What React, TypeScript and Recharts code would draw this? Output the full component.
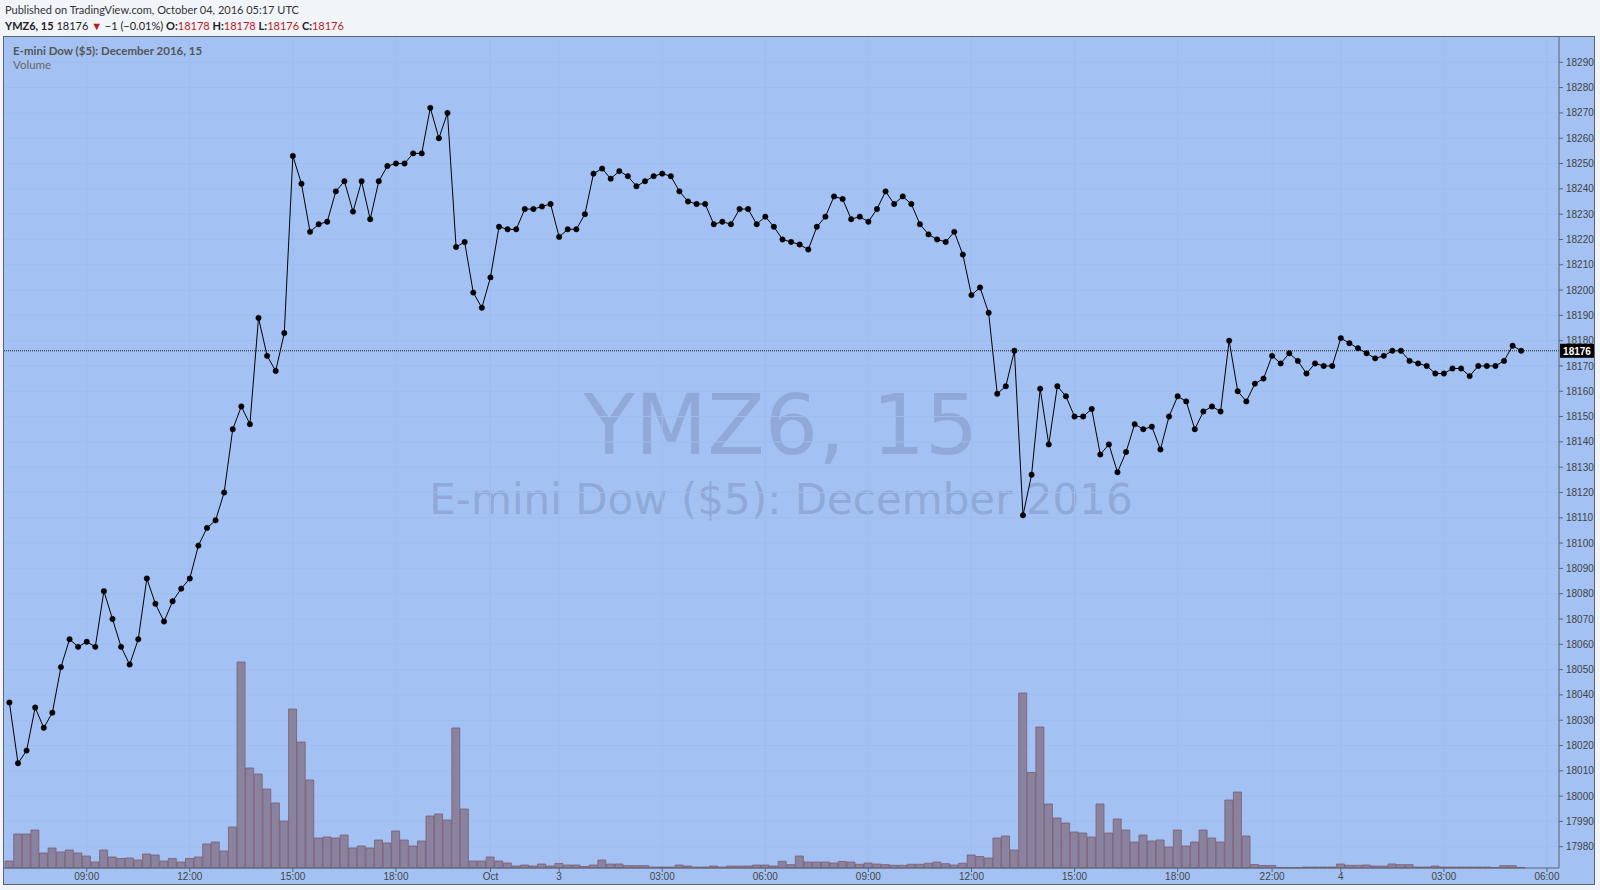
import { ComposedChart, Bar, Line, XAxis, YAxis, CartesianGrid, ReferenceLine } from 'recharts'

// 15-minute closes, Sep 30 06:45 UTC -> Oct 4 05:15 UTC (weekend gap removed)
const closes = [
  18037, 18013, 18018, 18035, 18027, 18033, 18051, 18062, 18059, 18061,
  18059, 18081, 18070, 18059, 18052, 18062, 18086, 18076, 18069, 18077,
  18082, 18086, 18099, 18106, 18109, 18120, 18145, 18154, 18147, 18189,
  18174, 18168, 18183, 18253, 18242, 18223, 18226, 18227, 18239, 18243,
  18231, 18243, 18228, 18243, 18249, 18250, 18250, 18254, 18254, 18272,
  18260, 18270, 18217, 18219, 18199, 18193, 18205, 18225, 18224, 18224,
  18232, 18232, 18233, 18234, 18221, 18224, 18224, 18230, 18246, 18248,
  18244, 18247, 18245, 18241, 18243, 18245, 18246, 18245, 18239, 18235,
  18234, 18234, 18226, 18227, 18226, 18232, 18232, 18226, 18229, 18225,
  18220, 18219, 18218, 18216, 18225, 18229, 18237, 18236, 18228, 18229,
  18227, 18232, 18239, 18234, 18237, 18234, 18226, 18222, 18220, 18219,
  18223, 18214, 18198, 18201, 18191, 18159, 18162, 18176, 18111, 18127,
  18161, 18139, 18162, 18158, 18150, 18150, 18153, 18135, 18139, 18128,
  18136, 18147, 18145, 18146, 18137, 18150, 18158, 18156, 18145, 18152,
  18154, 18152, 18180, 18160, 18156, 18163, 18165, 18174, 18171, 18175,
  18172, 18167, 18171, 18170, 18170, 18181, 18179, 18177, 18175, 18173,
  18174, 18176, 18176, 18172, 18171, 18170, 18167, 18167, 18169, 18169,
  18166, 18170, 18170, 18170, 18172, 18178, 18176,
]

const volumes = [
  175, 850, 850, 950, 375, 500, 400, 450, 375, 300,
  150, 450, 275, 238, 250, 200, 350, 325, 175, 238,
  150, 238, 275, 600, 650, 425, 1025, 5150, 2500, 2350,
  1975, 1625, 1175, 3975, 3150, 2200, 750, 775, 750, 825,
  500, 550, 500, 700, 625, 925, 700, 550, 675, 1300,
  1350, 1200, 3500, 1475, 175, 175, 275, 175, 125, 50,
  75, 50, 100, 50, 113, 75, 75, 38, 75, 200,
  100, 100, 58, 58, 58, 25, 25, 25, 75, 50,
  25, 25, 50, 25, 50, 50, 50, 75, 75, 50,
  168, 83, 300, 150, 150, 150, 125, 163, 150, 93,
  125, 100, 83, 68, 68, 93, 93, 118, 150, 108,
  75, 118, 325, 288, 250, 750, 800, 450, 4375, 2388,
  3525, 1600, 1250, 1125, 900, 875, 775, 1600, 875, 1225,
  950, 650, 825, 675, 700, 525, 950, 550, 650, 950,
  750, 650, 1700, 1900, 800, 88, 63, 63, 13, 13,
  13, 25, 25, 25, 25, 100, 68, 68, 75, 50,
  50, 100, 83, 83, 25, 25, 50, 25, 25, 25,
  25, 25, 25, 13, 58, 58, 13,
]

const timeTickIdx = [9, 21, 33, 45, 56, 64, 76, 88, 100, 112, 124, 136, 147, 155, 167, 179]
const timeTickLabels = ['09:00', '12:00', '15:00', '18:00', 'Oct', '3', '03:00', '06:00', '09:00', '12:00', '15:00', '18:00', '22:00', '4', '03:00', '06:00']
const priceTicks = [
  17980, 17990, 18000, 18010, 18020, 18030, 18040, 18050, 18060, 18070, 18080,
  18090, 18100, 18110, 18120, 18130, 18140, 18150, 18160, 18170, 18180, 18190,
  18200, 18210, 18220, 18230, 18240, 18250, 18260, 18270, 18280, 18290,
]
const lastPrice = 18176
const openPrice = 18178
const highPrice = 18178
const lowPrice = 18176
const closePrice = 18176

const BG = '#a3c2f3'
const RED = '#b71c1c'
const AXIS_FONT = '"Liberation Sans", Arial, sans-serif'

const data = closes.map((c, i) => ({ i, close: c, volume: volumes[i] }))

function PriceTag(props: any) {
  const vb = props.viewBox || {}
  const x = (vb.x ?? 0) + (vb.width ?? 0)
  const y = vb.y ?? 0
  return (
    <g>
      <rect x={x + 1} y={y - 7} width={34} height={14} fill="#000" />
      <text x={x + 18} y={y + 4} textAnchor="middle" fill="#fff" fontSize={10} fontWeight="bold" fontFamily={AXIS_FONT}>
        {lastPrice}
      </text>
    </g>
  )
}

export default function App() {
  return (
    <div style={{ position: 'relative', width: 1600, height: 890, background: '#f1f4f8', overflow: 'hidden', fontFamily: 'Lato, sans-serif' }}>
      <style>{'body{margin:0}'}</style>

      {/* header */}
      <div style={{ position: 'absolute', left: 5, top: 3, fontSize: 11, lineHeight: '14px', color: '#333', whiteSpace: 'nowrap' }}>
        Published on TradingView.com, October 04, 2016 05:17 UTC
      </div>
      <div style={{ position: 'absolute', left: 5, top: 19, fontSize: 11, lineHeight: '14px', color: '#222', whiteSpace: 'nowrap' }}>
        <b>YMZ6, 15</b> {closePrice} <span style={{ color: RED, fontSize: 11 }}>▼</span> −1 (−0.01%){' '}
        <b>O:</b><span style={{ color: RED }}>{openPrice}</span>{' '}
        <b>H:</b><span style={{ color: RED }}>{highPrice}</span>{' '}
        <b>L:</b><span style={{ color: RED }}>{lowPrice}</span>{' '}
        <b>C:</b><span style={{ color: RED }}>{closePrice}</span>
      </div>

      {/* chart pane */}
      <div style={{ position: 'absolute', left: 3, top: 36, width: 1590, height: 847, border: '1px solid #5b6572', background: BG }}>
        {/* watermark */}
        <div style={{ position: 'absolute', left: 0, top: 346, width: 1554, textAlign: 'center', fontFamily: '"DejaVu Sans", sans-serif', fontSize: 84, lineHeight: '84px', color: '#90a9d8', whiteSpace: 'nowrap' }}>
          YMZ6, 15
        </div>
        <div style={{ position: 'absolute', left: 0, top: 442, width: 1554, textAlign: 'center', fontFamily: '"DejaVu Sans", sans-serif', fontSize: 42, lineHeight: '42px', color: '#90a9d8', whiteSpace: 'nowrap' }}>
          E-mini Dow ($5): December 2016
        </div>

        <div style={{ position: 'absolute', left: 0, top: 0 }}>
          <ComposedChart width={1590} height={847} data={data} margin={{ top: 0, right: 0, bottom: 0, left: 0 }}>
            <CartesianGrid stroke="#9ebdef" horizontalValues={priceTicks} verticalValues={timeTickIdx} />
            <XAxis
              type="number"
              dataKey="i"
              domain={[-0.63, 180.4]}
              allowDataOverflow
              ticks={timeTickIdx}
              interval={0}
              tickFormatter={(v: number) => timeTickLabels[timeTickIdx.indexOf(v)]}
              height={16}
              tickSize={4}
              tickMargin={1}
              axisLine={{ stroke: '#5b6572' }}
              tickLine={{ stroke: '#5b6572' }}
              tick={{ fontSize: 10, fill: '#444', fontFamily: AXIS_FONT }}
            />
            <YAxis
              orientation="right"
              width={35}
              domain={[17971.6, 18300]}
              allowDataOverflow
              ticks={priceTicks}
              interval={0}
              tickSize={4}
              tickMargin={3}
              axisLine={{ stroke: '#5b6572' }}
              tickLine={{ stroke: '#5b6572' }}
              tick={{ fontSize: 10, fill: '#444', fontFamily: AXIS_FONT }}
            />
            <YAxis yAxisId="vol" hide domain={[0, 20775]} />
            <Bar yAxisId="vol" dataKey="volume" barSize={8} fill="#8a83a0" stroke="#7e5c6e" strokeWidth={0.8} isAnimationActive={false} />
            <ReferenceLine y={lastPrice} stroke="#222" strokeDasharray="1 1" label={<PriceTag />} />
            <Line
              dataKey="close"
              stroke="#000"
              strokeWidth={1}
              dot={{ r: 2.7, fill: '#000', stroke: '#000', strokeWidth: 0.5 }}
              isAnimationActive={false}
            />
          </ComposedChart>
        </div>

        {/* pane legend */}
        <div style={{ position: 'absolute', left: 9, top: 7, fontSize: 11.5, lineHeight: '14px', color: '#555', fontWeight: 'bold', whiteSpace: 'nowrap' }}>
          E-mini Dow ($5): December 2016, 15
        </div>
        <div style={{ position: 'absolute', left: 9, top: 21, fontSize: 11.5, lineHeight: '14px', color: '#666', whiteSpace: 'nowrap' }}>
          Volume
        </div>
      </div>
    </div>
  )
}
